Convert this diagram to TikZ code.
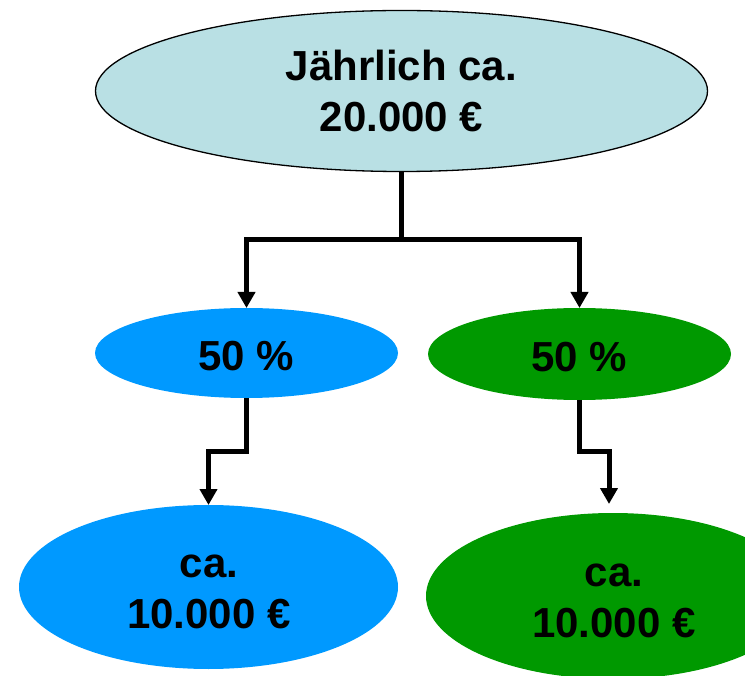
\documentclass[tikz,border=0pt]{standalone}
\usepackage{fontspec}
\setmainfont{Liberation Sans}
\usetikzlibrary{arrows.meta,shapes.geometric}
\definecolor{topfill}{RGB}{185,224,228}
\definecolor{shareblue}{RGB}{0,153,255}
\definecolor{sharegreen}{RGB}{0,153,0}
\begin{document}
\begin{tikzpicture}[x=1pt,y=-1pt,
  oval/.style={ellipse,inner sep=0pt,outer sep=0pt},
  txt/.style={font=\fontsize{42pt}{51pt}\selectfont\bfseries,align=center,inner sep=0pt},
  link/.style={line width=5pt},
  arrowlink/.style={link,-{Triangle[length=16pt,width=17pt]}}]
\useasboundingbox (0,0) rectangle (745,676);
\clip (0,0) rectangle (745,676);

% ellipses
\node[oval,draw,line width=1.3pt,fill=topfill,minimum width=612pt,minimum height=161pt] (top) at (401.5,91) {};
\node[oval,fill=shareblue,minimum width=303pt,minimum height=90pt] (midL) at (246.5,353) {};
\node[oval,fill=sharegreen,minimum width=303pt,minimum height=92pt] (midR) at (579.5,354) {};
\node[oval,fill=shareblue,minimum width=379pt,minimum height=164pt] (botL) at (208.5,587) {};
\node[oval,fill=sharegreen,minimum width=374pt,minimum height=166pt] (botR) at (613,596) {};

% texts
\node[txt] (topT) at (401.5,91) {Jährlich ca.\\20.000 €};
\node[txt] (midLT) at (246.5,356) {50 \%};
\node[txt] (midRT) at (579.5,357) {50 \%};
\node[txt] (botLT) at (209,592) {ca.\\10.000 €};
\node[txt] (botRT) at (614,601) {ca.\\10.000 €};

% connectors
\coordinate (split) at (401.5,240);
\coordinate (bendL) at (208.5,452);
\coordinate (bendR) at (609,452);
\draw[link] (top.south) -- (split);
\draw[arrowlink] (split) -| (midL.north);
\draw[arrowlink] (split) -| (midR.north);
\draw[arrowlink] (midL.south) |- (bendL) -- (botL.north);
\draw[arrowlink,shorten >=9pt] (midR.south) |- (bendR) -- (bendR |- botR.north);
\end{tikzpicture}
\end{document}
